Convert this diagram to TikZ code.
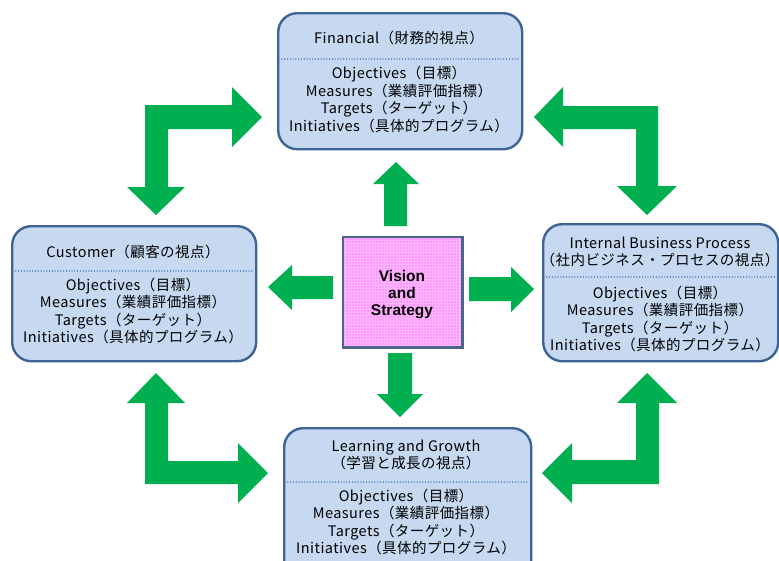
\documentclass[tikz,border=0pt]{standalone}
\usepackage{fontspec}
\setmainfont{Liberation Sans}
\newfontfamily\jp[LetterSpace=3]{Noto Sans CJK JP}
\definecolor{arrowgreen}{HTML}{00B050}
\definecolor{boxfill}{HTML}{C6D9F1}
\definecolor{boxline}{HTML}{3E6496}
\definecolor{divider}{HTML}{4F81BD}
\definecolor{visionfill}{HTML}{FF99FF}
\definecolor{visiongrid}{HTML}{FFB8FF}
\definecolor{visionline}{HTML}{4A6688}

\begin{document}
\begin{tikzpicture}[x=1pt,y=-1pt,
  persp/.style={draw=boxline, fill=boxfill, line width=2.4pt,
    rounded corners=19pt, inner sep=0pt, anchor=north west},
  divline/.style={draw=divider, line width=1.3pt, line cap=round,
    dash pattern=on 0.01pt off 2.8pt},
  jptext/.style={font=\jp\fontsize{14.5}{17.5}\selectfont, align=center, inner sep=0pt},
  blockarrow/.style={fill=arrowgreen}
]
\useasboundingbox (0,0) rectangle (779,560);
\clip (0,0) rectangle (779,560);

% ---- perspective boxes ----
\node[persp, minimum width=244pt, minimum height=136pt] (fin) at (277,12) {};
\node[persp, minimum width=244pt, minimum height=135pt] (cus) at (11,225) {};
\node[persp, minimum width=235pt, minimum height=137pt] (ibp) at (542,223) {};
\node[persp, minimum width=247pt, minimum height=160pt] (lag) at (283,427) {};

% dotted dividers between heading and contents
\draw[divline] (279,59) -- (519,59);
\draw[divline] (13,271) -- (253,271);
\draw[divline] (544,277) -- (775,277);
\draw[divline] (285,482) -- (528,482);

% headings
\node[jptext] (fin-t) at (399,38) {Financial（財務的視点）};
\node[jptext] (cus-t) at (133,252) {Customer（顧客の視点）};
\node[jptext] (ibp-t) at (660,252) {Internal Business Process\\（社内ビジネス・プロセスの視点）};
\node[jptext] (lag-t) at (406,455) {Learning and Growth\\（学習と成長の視点）};

% contents
\node[jptext] (fin-b) at (399,99.5) {Objectives（目標）\\Measures（業績評価指標）\\Targets（ターゲット）\\Initiatives（具体的プログラム）};
\node[jptext] (cus-b) at (133,311) {Objectives（目標）\\Measures（業績評価指標）\\Targets（ターゲット）\\Initiatives（具体的プログラム）};
\node[jptext] (ibp-b) at (660,319) {Objectives（目標）\\Measures（業績評価指標）\\Targets（ターゲット）\\Initiatives（具体的プログラム）};
\node[jptext] (lag-b) at (406,522) {Objectives（目標）\\Measures（業績評価指標）\\Targets（ターゲット）\\Initiatives（具体的プログラム）};

% ---- vision and strategy ----
\node[fill=visionfill, minimum width=119pt, minimum height=110pt,
  inner sep=0pt, anchor=north west] (vis) at (343,237) {};
\begin{scope}
  \clip (vis.north west) rectangle (vis.south east);
  \draw[visiongrid, line width=0.5pt, step=3pt] (vis.north west) grid (vis.south east);
\end{scope}
\draw[visionline, line width=2.4pt] (vis.north west) rectangle (vis.south east);
\node[font=\bfseries\fontsize{15.5}{17}\selectfont, align=center, inner sep=0pt]
  (vis-t) at (402,295) {Vision\\and\\Strategy};

% ---- arrows out of the centre ----
\fill[blockarrow] (396,162) -- (419,184) -- (407,184) -- (407,226) -- (384,226)
  -- (384,184) -- (373,184) -- cycle;
\fill[blockarrow] (268,287) -- (292,265) -- (292,276) -- (333,276) -- (333,299)
  -- (292,299) -- (292,310) -- cycle;
\fill[blockarrow] (534,289) -- (511,267) -- (511,277) -- (469,277) -- (469,301)
  -- (511,301) -- (511,312) -- cycle;
\fill[blockarrow] (400,417) -- (423,394) -- (412,394) -- (412,353) -- (388,353)
  -- (388,394) -- (377,394) -- cycle;

% ---- bent two-headed arrows between the perspectives ----
% customer <-> financial
\fill[blockarrow] (156,215) -- (185,187) -- (168,187) -- (168,129) -- (232,129)
  -- (232,147) -- (262,117) -- (232,87) -- (232,105) -- (145,105) -- (145,187)
  -- (127,187) -- cycle;
% financial <-> internal business process
\fill[blockarrow] (534,117) -- (563,87) -- (563,106) -- (658,106) -- (658,186)
  -- (677,186) -- (647,215) -- (617,186) -- (636,186) -- (636,129) -- (563,129)
  -- (563,147) -- cycle;
% customer <-> learning and growth
\fill[blockarrow] (156,373) -- (185,403) -- (168,403) -- (168,461) -- (238,461)
  -- (238,443) -- (268,473) -- (238,503) -- (238,484) -- (145,484) -- (145,403)
  -- (127,403) -- cycle;
% internal business process <-> learning and growth
\fill[blockarrow] (647,373) -- (677,403) -- (659,403) -- (659,484) -- (572,484)
  -- (572,503) -- (542,473) -- (572,443) -- (572,460) -- (636,460) -- (636,403)
  -- (617,403) -- cycle;
\end{tikzpicture}
\end{document}
